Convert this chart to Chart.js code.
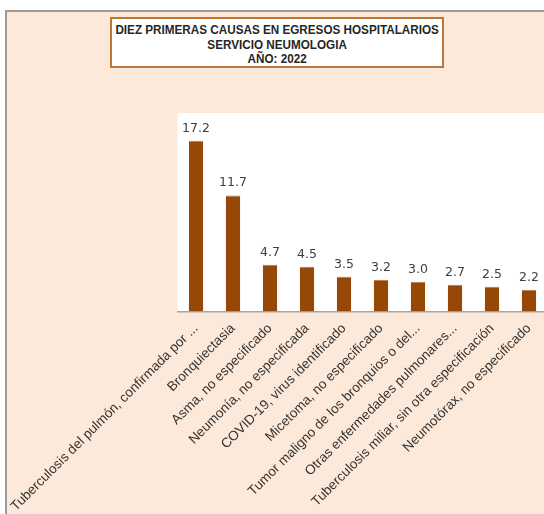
<!DOCTYPE html>
<html>
<head>
<meta charset="utf-8">
<script src="https://cdn.jsdelivr.net/npm/chart.js@4"></script>
<style>
  html,body{margin:0;padding:0;background:#fff;overflow:hidden;width:544px;height:514px}
  #frame{position:absolute;left:5px;top:10px;width:600px;height:600px;background:#FDE9D9;border:2px solid #9a9a9a;box-sizing:border-box}
  #titulo{position:absolute;left:110px;top:17px;width:334px;height:51px;box-sizing:border-box;background:#fff;border:2px solid #BE7535;z-index:2;overflow:hidden}
  #titulo div{width:367px;transform:scaleX(0.9);transform-origin:0 0;padding-top:4px;
    font:bold 13px "Liberation Sans",sans-serif;color:#262626;text-align:center;line-height:14.5px;white-space:nowrap}
  #grafico{position:absolute;left:0;top:0}
</style>
</head>
<body>
<div id="frame"></div>
<canvas id="grafico" width="560" height="514"></canvas>
<div id="titulo"><div>DIEZ PRIMERAS CAUSAS EN EGRESOS HOSPITALARIOS<br>SERVICIO NEUMOLOGIA<br>AÑO: 2022</div></div>
<script>
// Diez primeras causas de egreso (%), servicio de neumología 2022
const causas = [
  'Tuberculosis del pulmón, confirmada por ...',
  'Bronquiectasia',
  'Asma, no especificado',
  'Neumonía, no especificada',
  'COVID-19, virus identificado',
  'Micetoma, no especificado',
  'Tumor maligno de los bronquios o del...',
  'Otras enfermedades pulmonares...',
  'Tuberculosis miliar, sin otra especificación',
  'Neumotórax, no especificado'
];
const porcentajes = [17.2, 11.7, 4.7, 4.5, 3.5, 3.2, 3.0, 2.7, 2.5, 2.2];

// fondo blanco del área de trazado
const fondoArea = {
  id: 'fondoArea',
  beforeDraw(chart) {
    const { ctx, chartArea: a } = chart;
    ctx.save();
    ctx.fillStyle = '#fff';
    ctx.fillRect(a.left, a.top, a.right - a.left, a.bottom - a.top);
    ctx.restore();
  }
};

// valor encima de cada barra
const etiquetas = {
  id: 'etiquetas',
  afterDatasetsDraw(chart) {
    const { ctx } = chart;
    const meta = chart.getDatasetMeta(0);
    ctx.save();
    ctx.font = '12.5px "DejaVu Sans", sans-serif';
    ctx.fillStyle = '#404040';
    ctx.textAlign = 'center';
    ctx.textBaseline = 'bottom';
    meta.data.forEach((bar, i) => {
      ctx.fillText(porcentajes[i].toFixed(1), bar.x, bar.y - 6);
    });
    ctx.restore();
  }
};

new Chart(document.getElementById('grafico'), {
  type: 'bar',
  data: {
    labels: causas,
    datasets: [{
      data: porcentajes,
      backgroundColor: '#974706',
      borderColor: '#B8753F',
      borderWidth: { top: 1, left: 0, right: 0, bottom: 0 },
      categoryPercentage: 1,
      barPercentage: 0.39
    }]
  },
  options: {
    responsive: false,
    animation: false,
    layout: { padding: { left: 177.5, top: 113, right: 12.5, bottom: 0 } },
    plugins: { legend: { display: false }, tooltip: { enabled: false } },
    scales: {
      x: {
        grid: { display: false, drawTicks: false },
        border: { color: '#A6A6A6', width: 1.5 },
        ticks: {
          autoSkip: false, minRotation: 45, maxRotation: 45, padding: 9,
          color: '#333333',
          font: { family: '"Liberation Sans", sans-serif', size: 13.5 }
        },
        afterFit(s) { s.height = 202.5; s.paddingLeft = 0; s.paddingRight = 0; }
      },
      y: { display: false, min: 0, max: 20 }
    }
  },
  plugins: [fondoArea, etiquetas]
});
</script>
</body>
</html>
